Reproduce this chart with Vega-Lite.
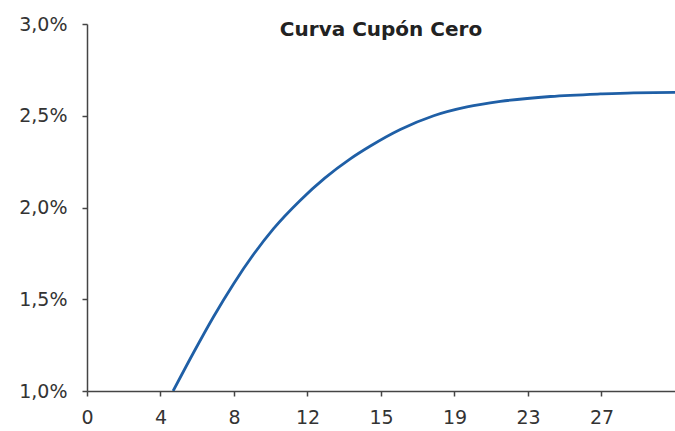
{
  "$schema": "https://vega.github.io/schema/vega-lite/v6.json",
  "autosize": {"type": "none"},
  "width": 588,
  "height": 367,
  "padding": {"left": 87, "top": 24, "right": 0, "bottom": 40},
  "background": "white",
  "config": {"view": {"stroke": null}},
  "title": {
    "text": "Curva Cupón Cero",
    "font": "DejaVu Sans",
    "fontSize": 20,
    "fontWeight": "bold",
    "color": "#222222",
    "anchor": "middle",
    "baseline": "alphabetic",
    "offset": 0,
    "dy": 41
  },
  "data": {
    "values": [
      {"plazo": 4.49, "tasa": 1.0},
      {"plazo": 5.56, "tasa": 1.21},
      {"plazo": 6.6, "tasa": 1.405},
      {"plazo": 7.65, "tasa": 1.585},
      {"plazo": 8.69, "tasa": 1.745},
      {"plazo": 9.73, "tasa": 1.885},
      {"plazo": 11.13, "tasa": 2.04},
      {"plazo": 12.4, "tasa": 2.16},
      {"plazo": 13.73, "tasa": 2.265},
      {"plazo": 14.78, "tasa": 2.335},
      {"plazo": 16.34, "tasa": 2.425},
      {"plazo": 18.08, "tasa": 2.5},
      {"plazo": 19.82, "tasa": 2.548},
      {"plazo": 21.56, "tasa": 2.578},
      {"plazo": 24.17, "tasa": 2.605},
      {"plazo": 26.78, "tasa": 2.619},
      {"plazo": 28.5, "tasa": 2.625},
      {"plazo": 30.667, "tasa": 2.627}
    ]
  },
  "mark": {"type": "line", "color": "#1f5fa6", "strokeWidth": 2.8, "interpolate": "monotone", "clip": true},
  "encoding": {
    "x": {
      "field": "plazo",
      "type": "quantitative",
      "scale": {"domain": [0, 30.667], "nice": false, "zero": false},
      "axis": {
        "title": null,
        "grid": false,
        "values": [0, 3.8333, 7.6667, 11.5, 15.3333, 19.1667, 23, 26.8333],
        "format": ".0f",
        "labelFont": "DejaVu Sans",
        "labelFontSize": 19,
        "labelColor": "#333333",
        "labelPadding": 12,
        "labelFlush": false,
        "labelOverlap": false,
        "domainColor": "#444444",
        "domainWidth": 1.5,
        "tickColor": "#444444",
        "tickWidth": 1.5,
        "tickSize": 5
      }
    },
    "y": {
      "field": "tasa",
      "type": "quantitative",
      "scale": {"domain": [1, 3], "nice": false, "zero": false},
      "axis": {
        "title": null,
        "grid": false,
        "values": [1, 1.5, 2, 2.5, 3],
        "labelExpr": "replace(format(datum.value, '.1f'), '.', ',') + '%'",
        "labelFont": "DejaVu Sans",
        "labelFontSize": 19,
        "labelColor": "#333333",
        "labelPadding": 15,
        "labelFlush": false,
        "labelOverlap": false,
        "domainColor": "#444444",
        "domainWidth": 1.5,
        "tickColor": "#444444",
        "tickWidth": 1.5,
        "tickSize": 5
      }
    }
  }
}
